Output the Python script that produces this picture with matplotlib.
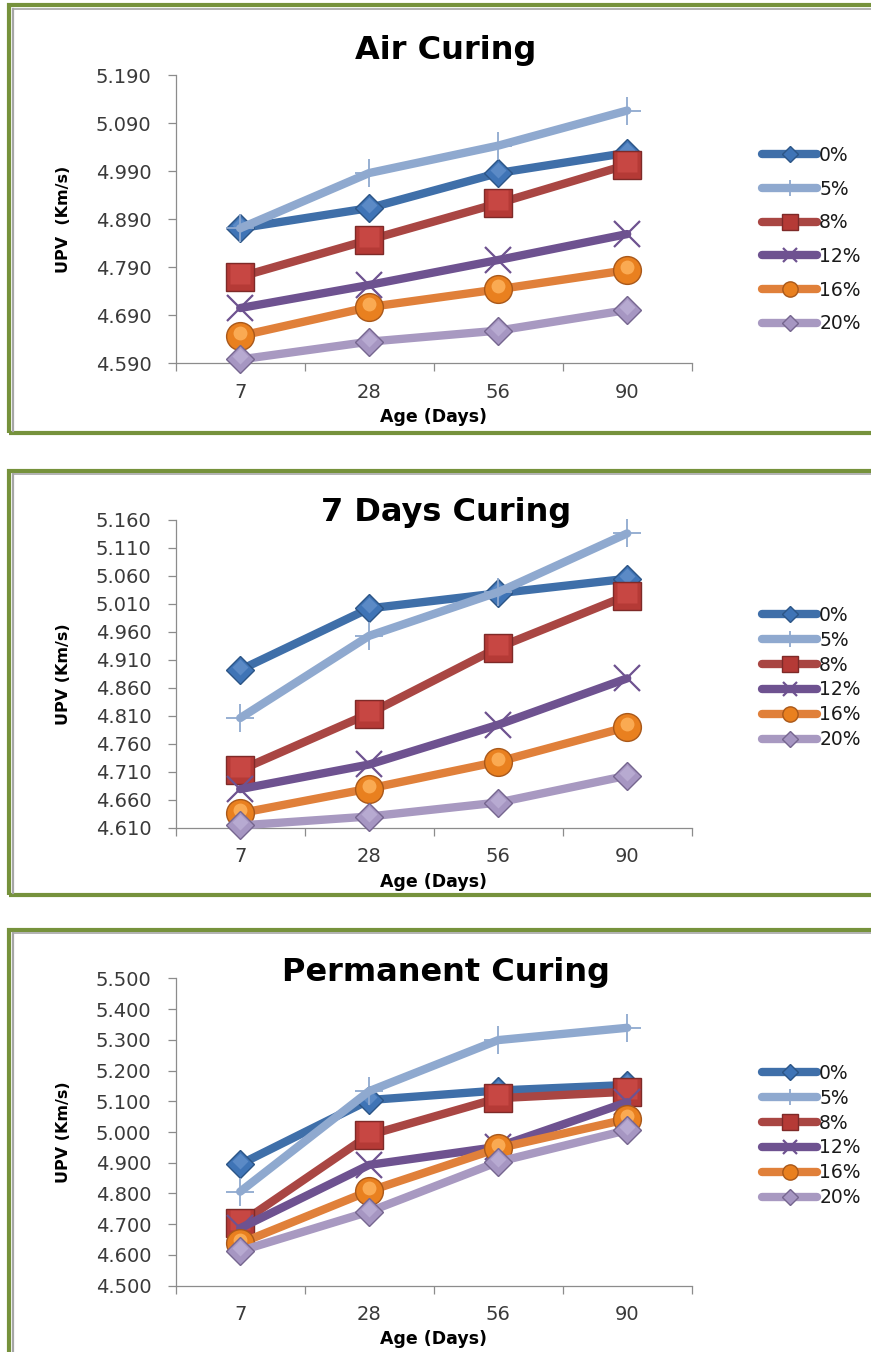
import numpy as np
import matplotlib
matplotlib.use("Agg")
import matplotlib.pyplot as plt
import matplotlib.transforms as mtransforms
from matplotlib.patches import Rectangle
from matplotlib.lines import Line2D

plt.rcParams["font.family"] = ["DejaVu Sans"]

# ---- data -------------------------------------------------------------
ages = ["7", "28", "56", "90"]
mixes = ["0%", "5%", "8%", "12%", "16%", "20%"]

# UPV (km/s) per mix (rows follow `mixes`), columns follow `ages`
air_curing = [
    [4.871, 4.913, 4.986, 5.028],
    [4.871, 4.986, 5.043, 5.116],
    [4.770, 4.847, 4.923, 5.003],
    [4.705, 4.753, 4.805, 4.859],
    [4.647, 4.707, 4.744, 4.784],
    [4.598, 4.635, 4.658, 4.701],
]
seven_day_curing = [
    [4.892, 5.002, 5.029, 5.055],
    [4.806, 4.953, 5.031, 5.136],
    [4.713, 4.814, 4.932, 5.025],
    [4.679, 4.723, 4.794, 4.877],
    [4.636, 4.680, 4.728, 4.790],
    [4.614, 4.630, 4.655, 4.703],
]
permanent_curing = [
    [4.895, 5.104, 5.135, 5.153],
    [4.806, 5.133, 5.299, 5.339],
    [4.703, 4.990, 5.110, 5.131],
    [4.687, 4.893, 4.952, 5.097],
    [4.638, 4.808, 4.947, 5.042],
    [4.613, 4.741, 4.903, 5.006],
]

titles = ["Air Curing", "7 Days Curing", "Permanent Curing"]
ylabels = ["UPV  (Km/s)", "UPV (Km/s)", "UPV (Km/s)"]
y_ranges = [(4.59, 5.19, 0.10), (4.61, 5.16, 0.05), (4.50, 5.50, 0.10)]

# ---- styling ----------------------------------------------------------
line_colors = ["#3F6FA9", "#8FA9CF", "#A94643", "#6E5290", "#E0803A", "#A899C1"]
face_colors = ["#3F74B6", "#8FA9CF", "#B53A36", "#6E5290", "#E9801F", "#A696C2"]
edge_colors = ["#2C5586", "#8FA9CF", "#7E2A28", "#6E5290", "#A9581A", "#76668F"]
shine_colors = ["#6F9AD2", None, "#D6524E", None, "#FFB560", "#C4B8DC"]
shine_scale = [0.6, 0, 0.72, 0, 0.5, 0.6]
shine_alpha = [0.6, 0, 0.55, 0, 0.8, 0.6]
markers = ["D", "+", "s", "x", "o", "D"]
msizes = [14, 20, 20, 19, 20, 14]
mews = [1.0, 1.3, 1.0, 1.6, 1.0, 1.0]

W, H = 871, 1352
fig = plt.figure(figsize=(W / 100, H / 100), dpi=100)
fig.patch.set_facecolor("white")


def fx(px):
    return px / W


def fy(py):
    return 1 - py / H


# panel frames: (top, bottom) in pixels
frames = [(5.5, 433), (471, 894.5), (929.5, 1400)]
for top, bot in frames:
    fig.add_artist(Rectangle((fx(9), fy(bot)), fx(900) - fx(9), fy(top) - fy(bot),
                             transform=fig.transFigure, fill=False,
                             edgecolor="#76923C", linewidth=3.0, zorder=5))
    fig.add_artist(Line2D([fx(12.5), fx(12.5)], [fy(top + 3), fy(bot - 2)],
                          transform=fig.transFigure, color="#A6A6A6", lw=1.6, zorder=5))
    fig.add_artist(Line2D([fx(12.5), fx(900)], [fy(top + 3), fy(top + 3)],
                          transform=fig.transFigure, color="#A6A6A6", lw=1.2, zorder=5))

# axes geometry in pixels: (top, bottom)
axes_px = [(75.0, 363.3), (520.0, 827.7), (978.3, 1285.7)]
ax_left, ax_right = 175.7, 691.7
title_y = [50, 513, 972]
legend_top = [146, 606, 1064]
legend_spacing = [0.78, 0.31, 0.31]
xlabel_y = [417, 882, 1339]

datasets = [air_curing, seven_day_curing, permanent_curing]
x = np.arange(len(ages))

for p in range(3):
    top, bot = axes_px[p]
    ax = fig.add_axes([fx(ax_left), fy(bot), fx(ax_right) - fx(ax_left), fy(top) - fy(bot)])
    ax.set_facecolor("none")
    lo, hi, step = y_ranges[p]
    ax.set_ylim(lo, hi)
    ax.set_xlim(-0.5, len(ages) - 0.5)

    # small upward shift used for the glossy highlight on each marker
    shine = mtransforms.offset_copy(ax.transData, fig=fig, x=0, y=3, units="dots")

    handles = []
    for i, mix in enumerate(mixes):
        ln, = ax.plot(x, datasets[p][i], color=line_colors[i], lw=6,
                      solid_joinstyle="round", solid_capstyle="round",
                      marker=markers[i], markersize=msizes[i],
                      markerfacecolor=face_colors[i], markeredgecolor=edge_colors[i],
                      markeredgewidth=mews[i], clip_on=False, label=mix, zorder=3 + i)
        handles.append(ln)
        if shine_colors[i] is not None:
            ax.plot(x, datasets[p][i], linestyle="none", marker=markers[i],
                    markersize=msizes[i] * shine_scale[i], markerfacecolor=shine_colors[i],
                    markeredgecolor="none", alpha=shine_alpha[i], transform=shine,
                    clip_on=False, zorder=3 + i + 0.5)

    # spines
    for s in ["top", "right"]:
        ax.spines[s].set_visible(False)
    for s in ["left", "bottom"]:
        ax.spines[s].set_color("#8C8C8C")
        ax.spines[s].set_linewidth(0.9)

    yt = np.round(np.arange(lo, hi + step / 2, step), 3)
    ax.set_yticks(yt)
    ax.set_yticklabels([f"{v:.3f}" for v in yt])
    ax.tick_params(axis="y", direction="out", length=5.5, width=0.9, color="#8C8C8C",
                   pad=12, labelsize=14, labelcolor="#3A3A3A")

    ax.set_xticks(np.arange(-0.5, len(ages), 1.0))
    ax.set_xticklabels([])
    ax.tick_params(axis="x", which="major", direction="out", length=5.5, width=0.9,
                   color="#8C8C8C")
    ax.set_xticks(x, minor=True)
    ax.set_xticklabels(ages, minor=True)
    ax.tick_params(axis="x", which="minor", length=0, pad=14, labelsize=14,
                   labelcolor="#3A3A3A")

    fig.text(fx(446), fy(title_y[p]), titles[p], fontsize=23, fontweight="bold",
             ha="center", va="center", color="black")
    fig.text(fx((ax_left + ax_right) / 2), fy(xlabel_y[p]), "Age (Days)", fontsize=12.5,
             fontweight="bold", ha="center", va="center", color="black")
    fig.text(fx(63), fy((top + bot) / 2), ylabels[p], fontsize=11.5, fontweight="bold",
             rotation=90, ha="center", va="center", color="black")

    fig.legend(handles=handles, loc="upper left",
               bbox_to_anchor=(fx(762), fy(legend_top[p])),
               bbox_transform=fig.transFigure, frameon=False, fontsize=13.5,
               handlelength=2.95, handletextpad=0.1, labelspacing=legend_spacing[p],
               borderpad=0, borderaxespad=0, markerscale=0.55,
               labelcolor="#1A1A1A")

fig.savefig("out.png", dpi=100, facecolor="white")
